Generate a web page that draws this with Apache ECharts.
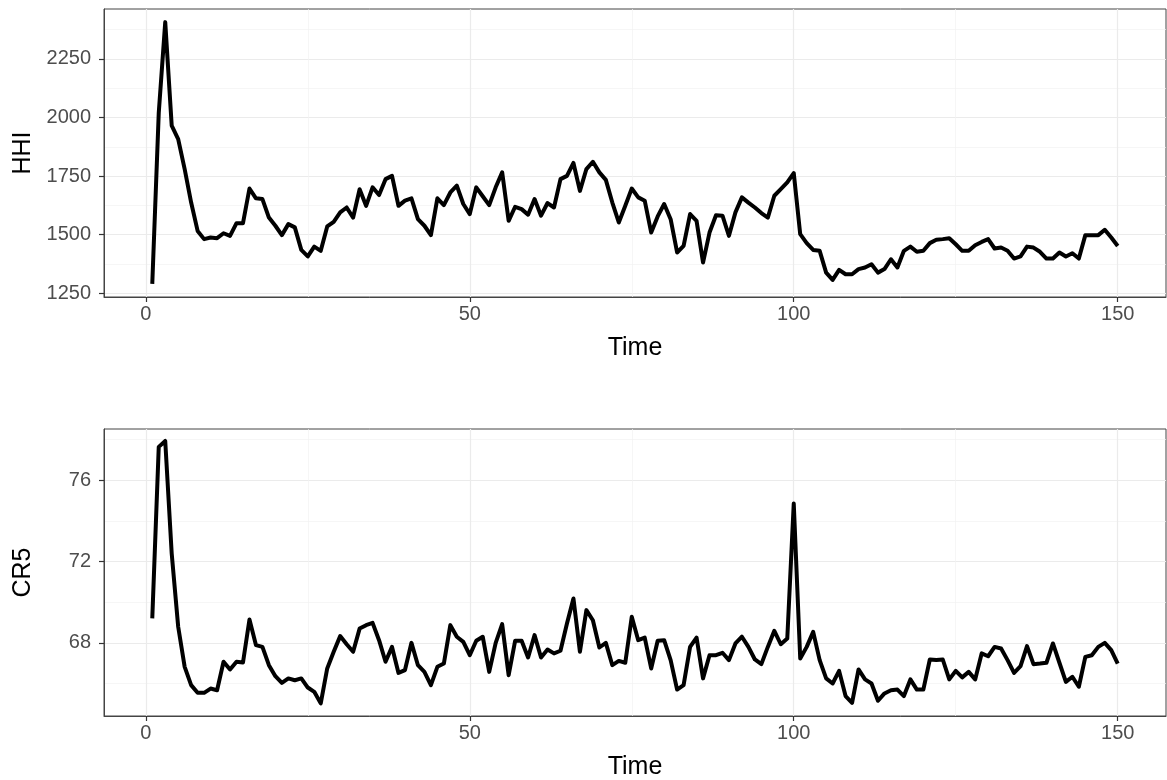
<!DOCTYPE html>
<html>
<head>
<meta charset="utf-8">
<script src="https://cdn.jsdelivr.net/npm/echarts@6/dist/echarts.min.js"></script>
<style>
html,body{margin:0;padding:0;background:#fff;}
#chart{width:1167px;height:780px;}
</style>
</head>
<body>
<div id="chart"></div>
<script>
// HHI values, Time = 1..150
var hhi = [
1290,2020,2407,1965,1908,1780,1637,1516,1481,1488,
1485,1506,1495,1549,1549,1697,1655,1652,1573,1538,
1498,1545,1531,1435,1407,1449,1431,1535,1555,1595,
1616,1573,1694,1623,1702,1669,1737,1751,1623,1645,
1655,1566,1538,1498,1655,1626,1680,1709,1631,1588,
1702,1664,1626,1702,1766,1559,1619,1609,1585,1652,
1581,1635,1616,1737,1751,1806,1687,1780,1811,1766,
1734,1637,1552,1623,1697,1659,1645,1509,1578,1631,
1566,1424,1452,1588,1559,1381,1509,1583,1581,1495,
1595,1659,1637,1616,1592,1573,1666,1694,1723,1763,
1502,1464,1435,1431,1338,1307,1350,1331,1331,1353,
1360,1374,1338,1353,1395,1360,1431,1449,1427,1431,
1464,1478,1481,1485,1459,1431,1431,1455,1469,1481,
1441,1445,1431,1398,1407,1449,1445,1427,1398,1398,
1424,1407,1421,1398,1498,1498,1498,1521,1488,1452
];
// CR5 values, Time = 1..150
var cr5 = [
69.20,77.64,77.93,72.39,68.79,66.82,65.92,65.54,65.54,65.75,
65.67,67.07,66.69,67.07,67.03,69.15,67.89,67.80,66.90,66.36,
66.03,66.25,66.16,66.25,65.80,65.59,65.02,66.74,67.56,68.33,
67.93,67.56,68.70,68.87,68.98,68.13,67.07,67.80,66.52,66.66,
68.00,66.90,66.57,65.92,66.82,66.98,68.87,68.30,68.05,67.39,
68.10,68.30,66.57,68.00,68.92,66.41,68.10,68.10,67.28,68.38,
67.28,67.67,67.48,67.61,68.95,70.18,67.56,69.61,69.11,67.77,
68.00,66.90,67.11,67.02,69.28,68.13,68.26,66.74,68.10,68.13,
67.15,65.70,65.92,67.80,68.26,66.25,67.39,67.39,67.51,67.15,
67.97,68.30,67.80,67.18,66.95,67.80,68.59,67.93,68.21,74.85,
67.23,67.80,68.54,67.15,66.25,66.00,66.62,65.38,65.05,66.69,
66.20,66.00,65.15,65.51,65.67,65.70,65.38,66.20,65.70,65.70,
67.18,67.15,67.18,66.20,66.62,66.30,66.57,66.20,67.48,67.34,
67.80,67.72,67.15,66.52,66.85,67.84,66.95,66.98,67.02,67.97,
67.02,66.08,66.33,65.84,67.31,67.39,67.80,68.00,67.64,66.98
];
var xTicks = [0, 50, 100, 150];
var hhiTicks = [1250, 1500, 1750, 2000, 2250];
var cr5Ticks = [68, 72, 76];

function pairs(arr){ return arr.map(function(v,i){ return [i+1, v]; }); }

var FONT = "'Liberation Sans', Arial, sans-serif";
var labelStyle = {color:'#4D4D4D', fontSize:20, fontFamily:FONT, formatter:function(v){return String(v);}};
var nameStyle = {color:'#000', fontSize:25, fontFamily:FONT};

function xAxis(gi){
  return {
    type:'value', gridIndex:gi, min:-6.45, max:157.45,
    minInterval:50, maxInterval:50, position:'bottom',
    name:'Time', nameLocation:'middle', nameGap:39, nameTextStyle:nameStyle,
    axisLine:{show:true, onZero:false, lineStyle:{color:'#444', width:1}},
    axisTick:{show:true, inside:false, length:5, lineStyle:{color:'#333', width:1.2}, customValues:xTicks},
    axisLabel:Object.assign({margin:7, customValues:xTicks}, labelStyle),
    splitLine:{show:true, lineStyle:{color:'#EBEBEB', width:1.2}},
    minorTick:{show:false, splitNumber:2},
    minorSplitLine:{show:true, lineStyle:{color:'#F2F2F2', width:0.7}}
  };
}
function yAxis(gi, name, mn, mx, iv, ticks){
  return {
    type:'value', gridIndex:gi, min:mn, max:mx,
    minInterval:iv, maxInterval:iv, position:'left',
    name:name, nameLocation:'middle', nameGap:68, nameTextStyle:nameStyle,
    axisLine:{show:true, onZero:false, lineStyle:{color:'#444', width:1}},
    axisTick:{show:true, inside:false, length:5, lineStyle:{color:'#333', width:1.2}, customValues:ticks},
    axisLabel:Object.assign({margin:13, customValues:ticks}, labelStyle),
    splitLine:{show:true, lineStyle:{color:'#EBEBEB', width:1.2}},
    minorTick:{show:false, splitNumber:2},
    minorSplitLine:{show:true, lineStyle:{color:'#F2F2F2', width:0.7}}
  };
}

var chart = echarts.init(document.getElementById('chart'), null, {renderer:'canvas'});
chart.setOption({
  animation:false,
  backgroundColor:'#fff',
  grid:[
    {left:104, top:9, right:1, height:288, show:true, borderColor:'#444', borderWidth:1, backgroundColor:'transparent', containLabel:false, outerBoundsMode:'none'},
    {left:104, top:429, right:1, height:287, show:true, borderColor:'#444', borderWidth:1, backgroundColor:'transparent', containLabel:false, outerBoundsMode:'none'}
  ],
  xAxis:[xAxis(0), xAxis(1)],
  yAxis:[
    yAxis(0, 'HHI', 1234, 2463, 250, hhiTicks),
    yAxis(1, 'CR5', 64.40, 78.52, 4, cr5Ticks)
  ],
  series:[
    {type:'line', xAxisIndex:0, yAxisIndex:0, data:pairs(hhi), showSymbol:false, symbol:'none',
     lineStyle:{color:'#000', width:4, cap:'butt', join:'round'}, z:3},
    {type:'line', xAxisIndex:1, yAxisIndex:1, data:pairs(cr5), showSymbol:false, symbol:'none',
     lineStyle:{color:'#000', width:4, cap:'butt', join:'round'}, z:3}
  ]
});
</script>
</body>
</html>
